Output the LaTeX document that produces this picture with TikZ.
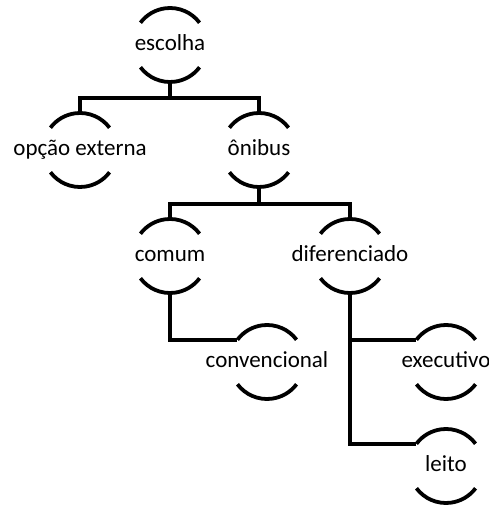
\documentclass[tikz,border=0pt]{standalone}
\usepackage{fontspec}
\setmainfont{Carlito}
\newcommand{\ringtext}[1]{\makebox[0pt]{\raisebox{-2pt}{\strut #1}}}
\begin{document}
\begin{tikzpicture}[x=1pt,y=1pt,
  ring/.style={circle, minimum size=74pt, inner sep=0pt, outer sep=0pt,
    font=\fontsize{23}{28}\selectfont},
  arcline/.style={line width=3.8pt},
  conn/.style={line width=3.8pt, line join=miter}]
\useasboundingbox (0,0) rectangle (489,506);

% tree nodes: a ring with only its top and bottom arcs shown
\node[ring] (esc)   at (170,461) {\ringtext{escolha}};
\node[ring] (opc)   at (80,356)  {\ringtext{opção externa}};
\node[ring] (oni)   at (259,356) {\ringtext{ônibus}};
\node[ring] (com)   at (170,250) {\ringtext{comum}};
\node[ring] (dif)   at (350,250) {\ringtext{diferenciado}};
\node[ring] (conv)  at (267,144) {\ringtext{convencional}};
\node[ring] (exe)   at (446,144) {\ringtext{executivo}};
\node[ring] (lei)   at (446,40)  {\ringtext{leito}};

\foreach \n in {esc,opc,oni,com,dif,conv,exe,lei} {
  \draw[arcline] (\n.37) arc[start angle=37, end angle=143, radius=37pt];
  \draw[arcline] (\n.217) arc[start angle=217, end angle=323, radius=37pt];
}

% connectors
\draw[conn] (esc.south) -- ++(0,-16) -| (opc.north);
\draw[conn] (esc.south) -- ++(0,-16) -| (oni.north);
\draw[conn] (oni.south) -- ++(0,-17) -| (com.north);
\draw[conn] (oni.south) -- ++(0,-17) -| (dif.north);
\draw[conn] (com.south) |- (conv.143);
\draw[conn] (dif.south) |- (exe.143);
\draw[conn] (dif.south) |- (lei.143);
\end{tikzpicture}
\end{document}
